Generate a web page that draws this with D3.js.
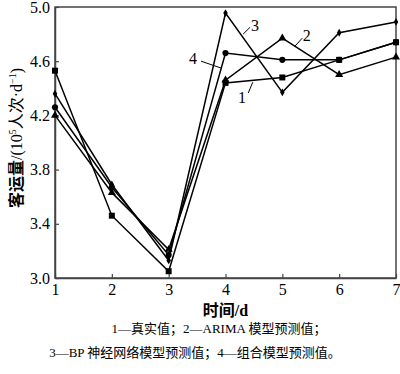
<!DOCTYPE html>
<html>
<head>
<meta charset="utf-8">
<script src="https://cdn.jsdelivr.net/npm/d3@7"></script>
<style>
  body { margin: 0; background: #fff; }
  text { font-family: "Liberation Serif", "Noto Sans CJK SC", serif; fill: #000; }
</style>
</head>
<body>
<div id="chart"></div>
<script>
// days and series (10^5 passengers per day)
const days = [1, 2, 3, 4, 5, 6, 7];
const actual = [4.53, 3.46, 3.05, 4.44, 4.48, 4.61, 4.74];   // 1 squares
const arima  = [4.20, 3.63, 3.21, 4.46, 4.77, 4.50, 4.63];   // 2 triangles
const bp     = [4.36, 3.69, 3.13, 4.955, 4.37, 4.81, 4.89];  // 3 small diamonds
const combo  = [4.26, 3.67, 3.17, 4.66, 4.61, 4.61, 4.74];   // 4 circles
const yTicks = [3.0, 3.4, 3.8, 4.2, 4.6, 5.0];

// labels with leader lines, in data units
const notes = [
  { t: "3", x: 4.52, y: 4.865, x1: 4.43, y1: 4.85, x2: 4.31, y2: 4.80 },
  { t: "2", x: 5.43, y: 4.79, x1: 5.35, y1: 4.77, x2: 5.22, y2: 4.71 },
  { t: "1", x: 4.29, y: 4.335, x1: 4.40, y1: 4.365, x2: 4.48, y2: 4.445 },
  { t: "4", x: 3.43, y: 4.62, x1: 3.57, y1: 4.60, x2: 3.92, y2: 4.55 }
];

const w = 400, h = 374;
const margin = { top: 7, right: 4, bottom: 96, left: 55 };

const svg = d3.select("#chart").append("svg")
  .attr("width", w)
  .attr("height", h);

const x = d3.scaleLinear().domain([1, 7]).range([margin.left, w - margin.right]),
      y = d3.scaleLinear().domain([3, 5]).range([h - margin.bottom, margin.top]);

// frame
svg.append("rect")
  .attr("x", x(1)).attr("y", y(5))
  .attr("width", x(7) - x(1)).attr("height", y(3) - y(5))
  .attr("fill", "none").attr("stroke", "#444").attr("stroke-width", 1.5);

const gx = svg.append("g").attr("transform", `translate(0,${y(3)})`)
  .call(d3.axisBottom(x).tickValues(days).tickFormat(d3.format("d")).tickSizeInner(-4).tickSizeOuter(0).tickPadding(6));
const gy = svg.append("g").attr("transform", `translate(${x(1)},0)`)
  .call(d3.axisLeft(y).tickValues(yTicks).tickFormat(d3.format(".1f")).tickSizeInner(-4).tickSizeOuter(0).tickPadding(5));
[gx, gy].forEach(g => {
  g.select(".domain").attr("stroke", "#444").attr("stroke-width", 1.5);
  g.selectAll(".tick line").attr("stroke", "#444").attr("stroke-width", 1.2);
  g.selectAll(".tick text").attr("font-size", 16).attr("font-family", "Liberation Serif");
});

// axis titles
svg.append("text").attr("x", (x(1) + x(7)) / 2).attr("y", 316)
  .attr("text-anchor", "middle").attr("font-size", 16).attr("font-weight", "bold").text("时间/d");

const yl = svg.append("text").attr("transform", `translate(22,138) rotate(-90)`)
  .attr("text-anchor", "middle").attr("font-size", 16);
yl.append("tspan").attr("font-weight", "bold").text("客运量");
yl.append("tspan").text("/(10");
yl.append("tspan").attr("font-size", 10).attr("dy", -6).text("5");
yl.append("tspan").attr("dy", 6).text("人次·d");
yl.append("tspan").attr("font-size", 10).attr("dy", -6).text("−1");
yl.append("tspan").attr("dy", 6).text(")");

// lines
const line = d3.line().x((d, i) => x(days[i])).y(d => y(d));
[actual, arima, bp, combo].forEach(s => {
  svg.append("path").datum(s)
    .attr("fill", "none").attr("stroke", "#000").attr("stroke-width", 1.5)
    .attr("d", line);
});

// markers
const sym = (s, type, size) => {
  svg.append("g").selectAll("path").data(s).enter().append("path")
    .attr("transform", (d, i) => `translate(${x(days[i])},${y(d)})`)
    .attr("d", d3.symbol().type(type).size(size))
    .attr("fill", "#000");
};
sym(bp, d3.symbolDiamond, 18);
sym(arima, d3.symbolTriangle, 28);
sym(combo, d3.symbolCircle, 30);
sym(actual, d3.symbolSquare, 36);

// series labels
notes.forEach(n => {
  svg.append("line")
    .attr("x1", x(n.x1)).attr("y1", y(n.y1)).attr("x2", x(n.x2)).attr("y2", y(n.y2))
    .attr("stroke", "#000").attr("stroke-width", 1);
  svg.append("text").attr("x", x(n.x)).attr("y", y(n.y) + 6)
    .attr("text-anchor", "middle").attr("font-size", 16).text(n.t);
});

// legend caption
svg.append("text").attr("x", 219).attr("y", 333).attr("text-anchor", "middle")
  .attr("font-size", 13).attr("fill", "#222").text("1—真实值；2—ARIMA 模型预测值；");
svg.append("text").attr("x", 195).attr("y", 357).attr("text-anchor", "middle")
  .attr("font-size", 13).attr("fill", "#222").text("3—BP 神经网络模型预测值；4—组合模型预测值。");
</script>
</body>
</html>
